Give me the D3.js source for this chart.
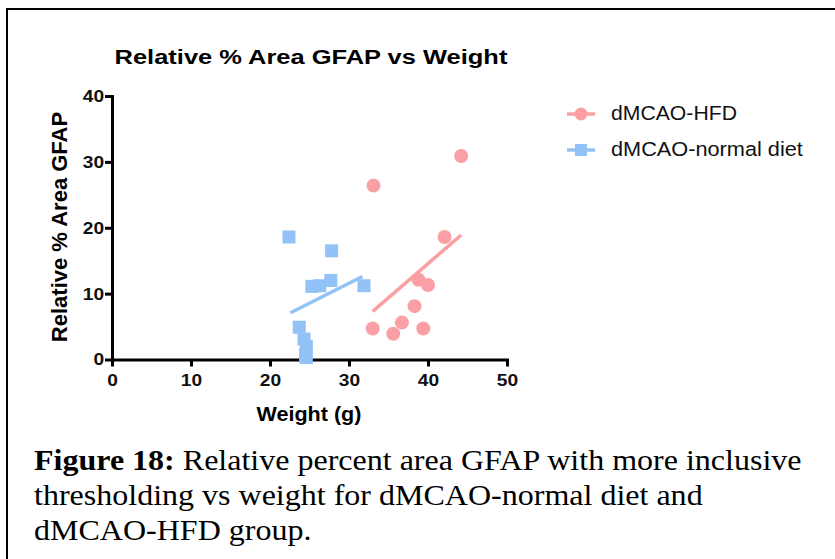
<!DOCTYPE html>
<html>
<head>
<meta charset="utf-8">
<script src="https://cdn.jsdelivr.net/npm/d3@7"></script>
<style>
  body { margin: 0; background: #fff; }
  svg { display: block; }
  .axis path, .axis line { stroke: #000; stroke-width: 3; }
  .axis text { font-family: Arial, "Liberation Sans", sans-serif; font-weight: bold; font-size: 17px; fill: #111; }
</style>
</head>
<body>
<div id="main"></div>
<script>
// weight (g) and relative % area GFAP
const hfdWeight = [33.1, 44.2, 42.1, 38.8, 40.0, 38.3, 36.7, 33.0, 35.6, 39.4];
const hfdGfap   = [26.4, 30.9, 18.6, 12.1, 11.3, 8.1, 5.6, 4.7, 3.9, 4.7];
const normWeight = [22.4, 27.8, 25.3, 26.3, 27.7, 31.9, 23.7, 24.3, 24.6, 24.5, 24.6];
const normGfap   = [18.6, 16.5, 11.1, 11.2, 12.0, 11.2, 4.9, 3.1, 2.0, 0.7, 0.3];
// regression line end points
const hfdFitX = [33.0, 44.2];
const hfdFitY = [7.3, 18.9];
const normFitX = [22.6, 31.7];
const normFitY = [7.1, 12.6];
const xTicks = [0, 10, 20, 30, 40, 50];
const yTicks = [0, 10, 20, 30, 40];
const seriesNames = ["dMCAO-HFD", "dMCAO-normal diet"];
const colors = ["#fa9fa3", "#92c2f7"];

const width = 835;
const height = 559;
const sansFont = 'Arial, "Liberation Sans", sans-serif';

const svg = d3.select('#main')
  .append('svg')
  .attr('width', width)
  .attr('height', height);

// the source picture is a bit wider than tall, so widen text about an x
function widen(sel, x0, k) {
  sel.attr('transform', 'translate(' + x0 + ',0) scale(' + k + ',1) translate(' + (-x0) + ',0)');
}
function fitWidth(sel, x0, target) {
  const w = sel.node().getComputedTextLength();
  widen(sel, x0, target / w);
}

// frame around figure
svg.append('rect')
  .attr('x', 7).attr('y', 9)
  .attr('width', 840).attr('height', 560)
  .attr('fill', 'none')
  .attr('stroke', '#000')
  .attr('stroke-width', 2);

const xScale = d3.scaleLinear().domain([0, 50]).range([112, 507]);
const yScale = d3.scaleLinear().domain([0, 40]).range([359.5, 96]);

// title
const title = svg.append('text')
  .attr('x', 311).attr('y', 64)
  .attr('text-anchor', 'middle')
  .style('font-family', sansFont)
  .style('font-weight', 'bold')
  .style('font-size', '21px')
  .text('Relative % Area GFAP vs Weight');
fitWidth(title, 311, 393);

// axes
svg.append('g').attr('class', 'axis x')
  .attr('transform', 'translate(0,' + yScale(0) + ')')
  .call(d3.axisBottom(xScale).tickValues(xTicks).tickSize(7).tickSizeOuter(0).tickPadding(4))
  .selectAll('text').attr('dy', '0.9em')
  .attr('transform', 'scale(1.13,1)');

svg.append('g').attr('class', 'axis y')
  .attr('transform', 'translate(' + xScale(0) + ',0)')
  .call(d3.axisLeft(yScale).tickValues(yTicks).tickSize(7).tickSizeOuter(0).tickPadding(2))
  .selectAll('text')
  .attr('x', -8)
  .attr('transform', 'translate(-9,0) scale(1.13,1) translate(9,0)');

svg.selectAll('.axis path').attr('stroke-linecap', 'square');

const xTitle = svg.append('text')
  .attr('x', 309).attr('y', 421)
  .attr('text-anchor', 'middle')
  .style('font-family', sansFont)
  .style('font-weight', 'bold')
  .style('font-size', '20px')
  .text('Weight (g)');
fitWidth(xTitle, 309, 105);

svg.append('text')
  .attr('transform', 'translate(67,' + 227 + ') rotate(-90)')
  .attr('text-anchor', 'middle')
  .style('font-family', sansFont)
  .style('font-weight', 'bold')
  .style('font-size', '22px')
  .text('Relative % Area GFAP');

// fit lines
const line = d3.line().x(d => xScale(d[0])).y(d => yScale(d[1]));
svg.append('path')
  .datum(hfdFitX.map((x, i) => [x, hfdFitY[i]]))
  .attr('d', line).attr('stroke', colors[0]).attr('stroke-width', 3.5).attr('fill', 'none');
svg.append('path')
  .datum(normFitX.map((x, i) => [x, normFitY[i]]))
  .attr('d', line).attr('stroke', colors[1]).attr('stroke-width', 3.5).attr('fill', 'none');

// points
svg.selectAll('rect.norm')
  .data(normWeight)
  .enter().append('rect')
  .attr('class', 'norm')
  .attr('x', (d) => xScale(d) - 6.5)
  .attr('y', (d, i) => yScale(normGfap[i]) - 6.5)
  .attr('width', 13).attr('height', 13)
  .attr('fill', colors[1]);

svg.selectAll('circle.hfd')
  .data(hfdWeight)
  .enter().append('circle')
  .attr('class', 'hfd')
  .attr('cx', (d) => xScale(d))
  .attr('cy', (d, i) => yScale(hfdGfap[i]))
  .attr('r', 7)
  .attr('fill', colors[0]);

// legend
const legend = svg.append('g');
const legendWidths = [126, 192];
seriesNames.forEach((name, i) => {
  const y = 114 + i * 36;
  legend.append('line')
    .attr('x1', 567).attr('x2', 595).attr('y1', y).attr('y2', y)
    .attr('stroke', colors[i]).attr('stroke-width', 3.5);
  if (i === 0) {
    legend.append('circle').attr('cx', 581).attr('cy', y).attr('r', 6.5).attr('fill', colors[i]);
  } else {
    legend.append('rect').attr('x', 575).attr('y', y - 6).attr('width', 12).attr('height', 12).attr('fill', colors[i]);
  }
  const t = legend.append('text')
    .attr('x', 611).attr('y', y + 6.5)
    .style('font-family', sansFont)
    .style('font-size', '19.5px')
    .style('fill', '#111')
    .text(name);
  fitWidth(t, 611, legendWidths[i]);
});

// caption
const caption = svg.append('text')
  .style('font-family', '"Liberation Serif", "Times New Roman", serif')
  .style('font-size', '30px')
  .style('fill', '#000');
const l1 = caption.append('tspan').attr('x', 34).attr('y', 470);
l1.append('tspan').style('font-weight', 'bold').text('Figure 18:');
l1.append('tspan').text(' Relative percent area GFAP with more inclusive');
caption.append('tspan').attr('x', 34).attr('y', 505).text('thresholding vs weight for dMCAO-normal diet and');
caption.append('tspan').attr('x', 34).attr('y', 540).text('dMCAO-HFD group.');
const capW = caption.node().getBBox().width;
widen(caption, 34, 768 / capW);
</script>
</body>
</html>
